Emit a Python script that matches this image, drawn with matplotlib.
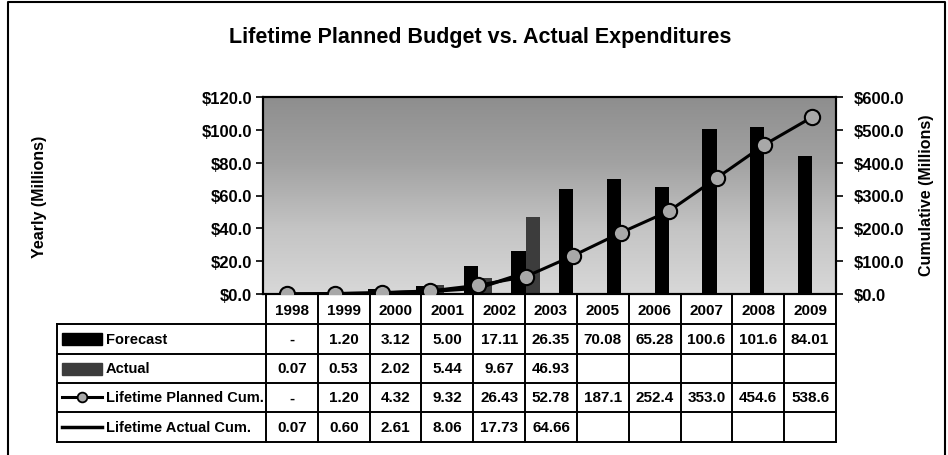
import numpy as np
import matplotlib.pyplot as plt
from matplotlib.colors import LinearSegmentedColormap
from matplotlib.patches import Rectangle

plt.rcParams['font.family'] = ['Liberation Sans', 'DejaVu Sans']
plt.rcParams['font.weight'] = 'bold'

# chart data (12 years, 2004 included in the plot)
years = ['1998', '1999', '2000', '2001', '2002', '2003', '2004',
         '2005', '2006', '2007', '2008', '2009']
forecast = [0, 1.20, 3.12, 5.00, 17.11, 26.35, 64.2, 70.08, 65.28, 100.6, 101.6, 84.01]
actual = [0.07, 0.53, 2.02, 5.44, 9.67, 46.93]
planned_cum = [0, 1.20, 4.32, 9.32, 26.43, 52.78, 117.0, 187.1, 252.4, 353.0, 454.6, 538.6]
actual_cum = [0.07, 0.60, 2.61, 8.06, 17.73, 64.66]

# data table under the chart (2004 column is not shown)
table_years = ['1998', '1999', '2000', '2001', '2002', '2003', '2005', '2006', '2007', '2008', '2009']
table_forecast = ['-', '1.20', '3.12', '5.00', '17.11', '26.35', '70.08', '65.28', '100.6', '101.6', '84.01']
table_actual = ['0.07', '0.53', '2.02', '5.44', '9.67', '46.93', '', '', '', '', '']
table_planned = ['-', '1.20', '4.32', '9.32', '26.43', '52.78', '187.1', '252.4', '353.0', '454.6', '538.6']
table_actual_cum = ['0.07', '0.60', '2.61', '8.06', '17.73', '64.66', '', '', '', '', '']
row_names = ['Forecast', 'Actual', 'Lifetime Planned Cum.', 'Lifetime Actual Cum.']

W, H = 948, 456
fig = plt.figure(figsize=(W / 100, H / 100), dpi=100)

# overlay in pixel coordinates for frame, titles and the table
ov = fig.add_axes([0, 0, 1, 1])
ov.set_xlim(0, W)
ov.set_ylim(H, 0)
ov.axis('off')

ov.plot([8, 8, 945, 945], [H + 5, 3, 3, H + 5], color='black', lw=1.5)
ov.text(480, 38, 'Lifetime Planned Budget vs. Actual Expenditures', ha='center', va='center',
        fontsize=15.5, fontweight='bold')
ov.text(40, 197, 'Yearly (Millions)', rotation=90, ha='center', va='center', fontsize=11.5, fontweight='bold')
ov.text(927, 195, 'Cumulative (Millions)', rotation=90, ha='center', va='center', fontsize=11.5,
        fontweight='bold')

x0, x1 = 263, 836
y_top, y_bot = 98, 295

# table
col_edges = np.linspace(266, x1, len(table_years) + 1)
row_edges = [y_bot, 325, 355, 384, 413, 443]
tab_left = 57
lw_t = 1.4
for xe in col_edges:
    ov.plot([xe, xe], [y_bot, row_edges[-1]], color='black', lw=lw_t)
for ye in row_edges[1:]:
    ov.plot([tab_left, x1], [ye, ye], color='black', lw=lw_t)
ov.plot([tab_left, tab_left], [row_edges[1], row_edges[-1]], color='black', lw=lw_t)
ccen = (col_edges[:-1] + col_edges[1:]) / 2
for c, yr in zip(ccen, table_years):
    ov.text(c, (row_edges[0] + row_edges[1]) / 2 + 1, yr, ha='center', va='center', fontsize=11)
rows = [table_forecast, table_actual, table_planned, table_actual_cum]
for r, vals in enumerate(rows):
    yc = (row_edges[r + 1] + row_edges[r + 2]) / 2
    for c, v in zip(ccen, vals):
        ov.text(c, yc, v, ha='center', va='center', fontsize=11)
    ov.text(106, yc, row_names[r], ha='left', va='center', fontsize=10.5)

# legend keys in the table
yk = [(row_edges[i] + row_edges[i + 1]) / 2 for i in range(1, 5)]
ov.add_patch(Rectangle((62, yk[0] - 6), 40, 12, color='black'))
ov.add_patch(Rectangle((62, yk[1] - 6), 40, 12, color='#3c3c3c'))
ov.plot([62, 102], [yk[2], yk[2]], color='black', lw=2.2)
ov.plot([82], [yk[2]], marker='o', ms=7, mfc='#a8a8a8', mec='black', mew=1.3)
ov.plot([62, 102], [yk[3], yk[3]], color='black', lw=2.5)

# main chart
fx = lambda px: px / W
fy = lambda py: 1 - py / H
ax = fig.add_axes([fx(x0), fy(y_bot), fx(x1) - fx(x0), fy(y_top) - fy(y_bot)])
x = np.arange(len(years))
ax.set_xlim(-0.5, len(years) - 0.5)
ax.set_ylim(0, 120)

cmap = LinearSegmentedColormap.from_list('bg', ['#d8d8d8', '#c4c4c4', '#a2a2a2', '#8e8e8e'])
grad = np.linspace(0, 1, 256).reshape(-1, 1)
ax.imshow(grad, cmap=cmap, origin='lower', aspect='auto', extent=(-0.5, len(years) - 0.5, 0, 120), zorder=0)

bw = 0.3
ax.bar(x - bw / 2, forecast, width=bw, color='black', zorder=2)
ax.bar(x[:len(actual)] + bw / 2, actual, width=bw, color='#3c3c3c', zorder=2)

ax.set_yticks(np.arange(0, 121, 20))
ax.set_yticklabels(['$%.1f' % v for v in np.arange(0, 121, 20)])
ax.set_xticks([])
ax.tick_params(axis='y', direction='out', length=5, width=1.2, labelsize=12, pad=3)
for s in ax.spines.values():
    s.set_linewidth(1.5)

ax2 = ax.twinx()
ax2.set_ylim(0, 600)
ax2.plot(x[:len(actual_cum)], actual_cum, color='black', lw=2.5, zorder=3)
ax2.plot(x, planned_cum, color='black', lw=2.2, marker='o', ms=11, mfc='#a8a8a8', mec='black', mew=1.5,
         zorder=4)
ax2.set_yticks(np.arange(0, 601, 100))
ax2.set_yticklabels(['$%.1f' % v for v in np.arange(0, 601, 100)])
ax2.tick_params(axis='y', direction='out', length=5, width=1.2, labelsize=12, pad=8)
for s in ax2.spines.values():
    s.set_linewidth(1.5)

fig.savefig('out.png', dpi=100)
